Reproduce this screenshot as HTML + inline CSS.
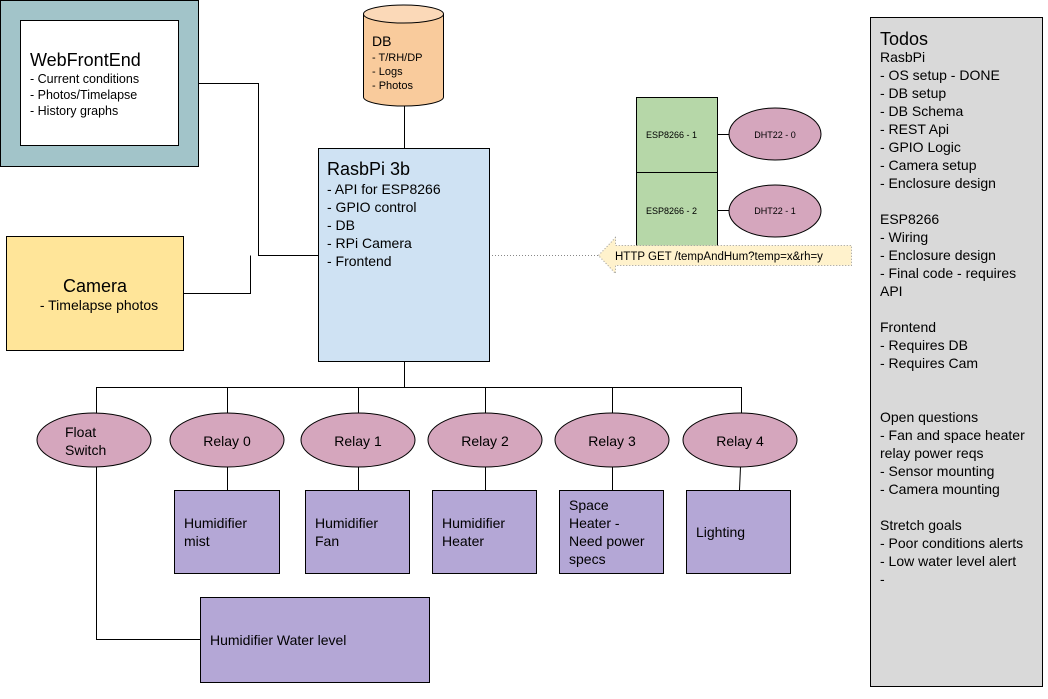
<!DOCTYPE html>
<html><head><meta charset="utf-8"><style>
html,body{margin:0;padding:0;background:#fff}
svg{display:block;font-family:"Liberation Sans",Arial,sans-serif}
</style></head><body>
<svg width="1048" height="699" viewBox="0 0 1048 699" xmlns="http://www.w3.org/2000/svg">
<g fill="none" stroke="#000" stroke-width="1">
<polyline points="198.5,83.5 258.5,83.5 258.5,255.5 318,255.5"/>
<polyline points="184,293.5 250.5,293.5 250.5,255.5"/>
<line x1="404.5" y1="106" x2="404.5" y2="148"/>
<line x1="404.5" y1="361" x2="404.5" y2="387.5"/>
<line x1="96.5" y1="387.5" x2="741.5" y2="387.5"/>
<line x1="96.5" y1="387" x2="96.5" y2="413"/>
<line x1="227.5" y1="387" x2="227.5" y2="413"/>
<line x1="358.5" y1="387" x2="358.5" y2="413"/>
<line x1="485.5" y1="387" x2="485.5" y2="413"/>
<line x1="612.5" y1="387" x2="612.5" y2="413"/>
<line x1="741.5" y1="387" x2="741.5" y2="413"/>
<line x1="227.5" y1="467" x2="227.5" y2="490"/>
<line x1="358.5" y1="467" x2="358.5" y2="490"/>
<line x1="485.5" y1="467" x2="485.5" y2="490"/>
<line x1="612.5" y1="467" x2="612.5" y2="490"/>
<line x1="740.5" y1="467" x2="739.5" y2="490"/>
<polyline points="96.5,467 96.5,639.5 200,639.5"/>
<line x1="717" y1="134.5" x2="729" y2="134.5"/>
<line x1="717" y1="210.5" x2="729" y2="210.5"/>
<line x1="489" y1="255.5" x2="598" y2="255.5" stroke="#888" stroke-dasharray="1,2"/>
</g>
<rect x="0.5" y="0.5" width="198" height="166" fill="#a2c4c9" stroke="#000"/>
<rect x="20.5" y="20.5" width="158" height="125" fill="#fff" stroke="#000"/>
<text x="30" y="66" font-size="18">WebFrontEnd</text>
<text font-size="12.5"><tspan x="30" y="83">- Current conditions</tspan><tspan x="30" y="99">- Photos/Timelapse</tspan><tspan x="30" y="115">- History graphs</tspan></text>
<rect x="6.5" y="236.5" width="177" height="114" fill="#ffe599" stroke="#000"/>
<text x="95" y="292" font-size="18" text-anchor="middle">Camera</text>
<text x="99" y="310" font-size="14" text-anchor="middle">- Timelapse photos</text>
<path d="M363.5,14 L363.5,97 A40,9 0 0 0 443.5,97 L443.5,14" fill="#f9cb9c" stroke="#000"/>
<ellipse cx="403.5" cy="14" rx="40" ry="9" fill="#fbd9b8" stroke="#000"/>
<text x="372" y="46" font-size="14">DB</text>
<text font-size="11"><tspan x="372" y="61">- T/RH/DP</tspan><tspan x="372" y="75">- Logs</tspan><tspan x="372" y="89">- Photos</tspan></text>
<rect x="318.5" y="148.5" width="171" height="213" fill="#cfe2f3" stroke="#000"/>
<text x="327" y="175" font-size="18">RasbPi 3b</text>
<text font-size="14"><tspan x="327" y="194">- API for ESP8266</tspan><tspan x="327" y="212">- GPIO control</tspan><tspan x="327" y="230">- DB</tspan><tspan x="327" y="248">- RPi Camera</tspan><tspan x="327" y="266">- Frontend</tspan></text>
<rect x="636.5" y="97.5" width="81" height="75" fill="#b6d7a8" stroke="#000"/>
<rect x="636.5" y="172.5" width="81" height="80" fill="#b6d7a8" stroke="#000"/>
<text x="646" y="138" font-size="9">ESP8266 - 1</text>
<text x="646" y="214" font-size="9">ESP8266 - 2</text>
<ellipse cx="775" cy="134" rx="46" ry="26" fill="#d5a6bd" stroke="#000"/>
<ellipse cx="775" cy="211" rx="46" ry="26" fill="#d5a6bd" stroke="#000"/>
<text x="775" y="138" font-size="9" text-anchor="middle">DHT22 - 0</text>
<text x="775" y="214" font-size="9" text-anchor="middle">DHT22 - 1</text>
<path d="M598.5,255.5 L615.5,237.5 L615.5,245.5 L851.5,245.5 L851.5,265.5 L615.5,265.5 L615.5,273.5 Z" fill="#fff2cc" stroke="#999" stroke-dasharray="1,2"/>
<text x="615" y="260" font-size="11.5">HTTP GET /tempAndHum?temp=x&amp;rh=y</text>
<g fill="#d5a6bd" stroke="#000">
<ellipse cx="94" cy="440" rx="57" ry="27"/>
<ellipse cx="227" cy="440" rx="57" ry="27"/>
<ellipse cx="358" cy="440" rx="57" ry="27"/>
<ellipse cx="485" cy="440" rx="57" ry="27"/>
<ellipse cx="612" cy="440" rx="57" ry="27"/>
<ellipse cx="740" cy="440" rx="57" ry="27"/>
</g>
<text font-size="14"><tspan x="65" y="437">Float</tspan><tspan x="65" y="455">Switch</tspan></text>
<text font-size="14" text-anchor="middle"><tspan x="227" y="446">Relay 0</tspan><tspan x="358" y="446">Relay 1</tspan><tspan x="485" y="446">Relay 2</tspan><tspan x="612" y="446">Relay 3</tspan><tspan x="740" y="446">Relay 4</tspan></text>
<g fill="#b4a7d6" stroke="#000">
<rect x="174.5" y="490.5" width="105" height="83"/>
<rect x="305.5" y="490.5" width="104" height="83"/>
<rect x="432.5" y="490.5" width="104" height="83"/>
<rect x="559.5" y="490.5" width="104" height="83"/>
<rect x="686.5" y="490.5" width="104" height="83"/>
<rect x="200.5" y="597.5" width="229" height="85"/>
</g>
<text font-size="14"><tspan x="184" y="528">Humidifier</tspan><tspan x="184" y="546">mist</tspan></text>
<text font-size="14"><tspan x="315" y="528">Humidifier</tspan><tspan x="315" y="546">Fan</tspan></text>
<text font-size="14"><tspan x="442" y="528">Humidifier</tspan><tspan x="442" y="546">Heater</tspan></text>
<text font-size="14"><tspan x="569" y="510">Space</tspan><tspan x="569" y="528">Heater -</tspan><tspan x="569" y="546">Need power</tspan><tspan x="569" y="564">specs</tspan></text>
<text x="696" y="537" font-size="14">Lighting</text>
<text x="210" y="645" font-size="14">Humidifier Water level</text>
<rect x="870.5" y="17.5" width="172" height="669" fill="#d9d9d9" stroke="#000"/>
<text x="880" y="45" font-size="18">Todos</text>
<text font-size="14">
<tspan x="880" y="62">RasbPi</tspan><tspan x="880" y="80">- OS setup - DONE</tspan><tspan x="880" y="98">- DB setup</tspan><tspan x="880" y="116">- DB Schema</tspan><tspan x="880" y="134">- REST Api</tspan><tspan x="880" y="152">- GPIO Logic</tspan><tspan x="880" y="170">- Camera setup</tspan><tspan x="880" y="188">- Enclosure design</tspan>
<tspan x="880" y="224">ESP8266</tspan><tspan x="880" y="242">- Wiring</tspan><tspan x="880" y="260">- Enclosure design</tspan><tspan x="880" y="278">- Final code - requires</tspan><tspan x="880" y="296">API</tspan>
<tspan x="880" y="332">Frontend</tspan><tspan x="880" y="350">- Requires DB</tspan><tspan x="880" y="368">- Requires Cam</tspan>
<tspan x="880" y="422">Open questions</tspan><tspan x="880" y="440">- Fan and space heater</tspan><tspan x="880" y="458">relay power reqs</tspan><tspan x="880" y="476">- Sensor mounting</tspan><tspan x="880" y="494">- Camera mounting</tspan>
<tspan x="880" y="530">Stretch goals</tspan><tspan x="880" y="548">- Poor conditions alerts</tspan><tspan x="880" y="566">- Low water level alert</tspan><tspan x="880" y="584">-</tspan>
</text>
</svg>
</body></html>
